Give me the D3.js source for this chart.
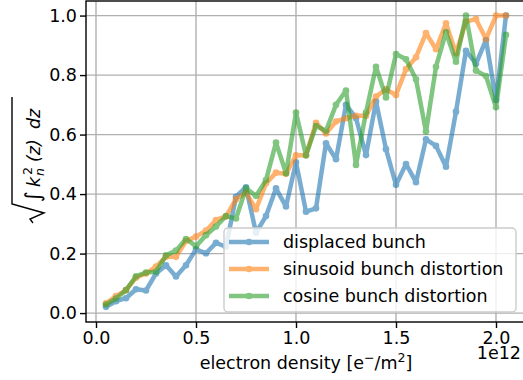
<!DOCTYPE html>
<html>
<head>
<meta charset="utf-8">
<script src="https://cdn.jsdelivr.net/npm/d3@7"></script>
<style>
  body { margin: 0; background: #fff; }
  svg { display: block; font-family: "DejaVu Sans", sans-serif; }
</style>
</head>
<body>
<div id="chart"></div>
<script>
  // electron density (units of 1e12 e-/m^2)
  const density = [0.05, 0.10, 0.15, 0.20, 0.25, 0.30, 0.35, 0.40, 0.45, 0.50,
    0.55, 0.60, 0.65, 0.70, 0.75, 0.80, 0.85, 0.90, 0.95, 1.00,
    1.05, 1.10, 1.15, 1.20, 1.25, 1.30, 1.35, 1.40, 1.45, 1.50,
    1.55, 1.60, 1.65, 1.70, 1.75, 1.80, 1.85, 1.90, 1.95, 2.00, 2.05];

  const displaced = [0.021, 0.040, 0.050, 0.080, 0.076, 0.133, 0.161, 0.123, 0.161, 0.214,
    0.201, 0.236, 0.223, 0.391, 0.423, 0.270, 0.326, 0.419, 0.358, 0.507,
    0.341, 0.352, 0.571, 0.517, 0.700, 0.655, 0.531, 0.711, 0.551, 0.431,
    0.501, 0.440, 0.584, 0.562, 0.492, 0.677, 0.882, 0.838, 0.918, 0.716, 1.000];

  const sinusoid = [0.033, 0.057, 0.077, 0.119, 0.133, 0.156, 0.189, 0.189, 0.242, 0.257,
    0.277, 0.313, 0.325, 0.383, 0.405, 0.349, 0.436, 0.472, 0.468, 0.530,
    0.531, 0.640, 0.604, 0.644, 0.655, 0.663, 0.663, 0.728, 0.752, 0.733,
    0.820, 0.860, 0.941, 0.887, 0.974, 0.873, 0.980, 0.988, 0.921, 1.000, 1.000];

  const cosine = [0.029, 0.049, 0.077, 0.124, 0.136, 0.139, 0.194, 0.210, 0.249, 0.225,
    0.262, 0.291, 0.326, 0.318, 0.419, 0.394, 0.447, 0.573, 0.470, 0.674,
    0.530, 0.629, 0.613, 0.700, 0.748, 0.498, 0.674, 0.828, 0.725, 0.871,
    0.853, 0.786, 0.610, 0.828, 0.944, 0.845, 1.000, 0.815, 0.797, 0.692, 0.935];

  const seriesNames = ['displaced bunch', 'sinusoid bunch distortion', 'cosine bunch distortion'];
  const seriesColors = ['#1f77b4', '#ff7f0e', '#2ca02c'];
  const xTicks = [0.0, 0.5, 1.0, 1.5, 2.0];
  const yTicks = [0.0, 0.2, 0.4, 0.6, 0.8, 1.0];

  const width = 523;
  const height = 380;
  const margin = { top: 1, right: -3, bottom: 58, left: 86 };
  const fontSize = 17.5;

  const svg = d3.select('#chart')
    .append('svg')
    .attr('width', width)
    .attr('height', height);

  const x = d3.scaleLinear()
    .domain([-0.05, 2.15])
    .range([margin.left, width - margin.right]);

  const y = d3.scaleLinear()
    .domain([-0.03, 1.049])
    .range([height - margin.bottom, margin.top]);

  const plotArea = svg.append('g');

  // grid
  plotArea.selectAll('line.gx')
    .data(xTicks)
    .join('line')
    .attr('class', 'gx')
    .attr('x1', d => x(d)).attr('x2', d => x(d))
    .attr('y1', y.range()[0]).attr('y2', y.range()[1])
    .attr('stroke', '#b0b0b0').attr('stroke-width', 1.4);

  plotArea.selectAll('line.gy')
    .data(yTicks)
    .join('line')
    .attr('class', 'gy')
    .attr('y1', d => y(d)).attr('y2', d => y(d))
    .attr('x1', x.range()[0]).attr('x2', x.range()[1])
    .attr('stroke', '#b0b0b0').attr('stroke-width', 1.4);

  // series
  const allSeries = [displaced, sinusoid, cosine];
  const line = d3.line()
    .x((d, i) => x(density[i]))
    .y(d => y(d));

  allSeries.forEach((vals, k) => {
    const g = plotArea.append('g').attr('opacity', 0.6);
    g.append('path')
      .datum(vals)
      .attr('d', line)
      .attr('fill', 'none')
      .attr('stroke', seriesColors[k])
      .attr('stroke-width', 4.5)
      .attr('stroke-linejoin', 'round')
      .attr('stroke-linecap', 'butt');
    g.selectAll('circle')
      .data(vals)
      .join('circle')
      .attr('cx', (d, i) => x(density[i]))
      .attr('cy', d => y(d))
      .attr('r', 3.3)
      .attr('fill', seriesColors[k]);
  });

  // axes
  const xAxis = svg.append('g')
    .attr('transform', `translate(0,${y.range()[0]})`)
    .call(d3.axisBottom(x).tickValues(xTicks).tickFormat(d3.format('.1f')).tickSize(6).tickPadding(4));

  const yAxis = svg.append('g')
    .attr('transform', `translate(${x.range()[0]},0)`)
    .call(d3.axisLeft(y).tickValues(yTicks).tickFormat(d3.format('.1f')).tickSize(6).tickPadding(3));

  [xAxis, yAxis].forEach(a => {
    a.select('.domain').remove();
    a.selectAll('line').attr('stroke', '#000').attr('stroke-width', 1.4);
    a.selectAll('text')
      .attr('fill', '#000')
      .style('font-size', fontSize + 'px')
      .style('font-family', '"DejaVu Sans", sans-serif');
  });

  // spines
  svg.append('rect')
    .attr('x', x.range()[0])
    .attr('y', y.range()[1])
    .attr('width', x.range()[1] - x.range()[0])
    .attr('height', y.range()[0] - y.range()[1])
    .attr('fill', 'none')
    .attr('stroke', '#000')
    .attr('stroke-width', 1.4);

  // x label
  const xl = svg.append('text')
    .attr('x', (x.range()[0] + x.range()[1]) / 2)
    .attr('y', 369)
    .attr('text-anchor', 'middle')
    .style('font-size', fontSize + 'px');
  xl.append('tspan').text('electron density [e');
  xl.append('tspan').attr('dy', -7).style('font-size', '12.5px').text('\u2212');
  xl.append('tspan').attr('dy', 7).text('/m');
  xl.append('tspan').attr('dy', -7).style('font-size', '12.5px').text('2');
  xl.append('tspan').attr('dy', 7).text(']');

  // offset text
  svg.append('text')
    .attr('x', 521)
    .attr('y', 359)
    .attr('text-anchor', 'end')
    .style('font-size', fontSize + 'px')
    .text('1e12');

  // y label: sqrt( int k_n^2(z) dz )
  const yl = svg.append('g')
    .attr('transform', 'translate(40,160) rotate(-90)');
  yl.append('path')
    .attr('d', 'M-63,-7 L-59,-10 L-53,4 L-44,-28 L63,-28')
    .attr('fill', 'none')
    .attr('stroke', '#000')
    .attr('stroke-width', 1.4);
  yl.append('text')
    .attr('x', -42).attr('y', 0)
    .style('font-size', '21px')
    .text('\u222B');
  yl.append('text')
    .attr('x', -27).attr('y', 0)
    .style('font-size', fontSize + 'px')
    .style('font-style', 'italic')
    .text('k');
  yl.append('text')
    .attr('x', -15).attr('y', -8)
    .style('font-size', '12.5px')
    .text('2');
  yl.append('text')
    .attr('x', -16).attr('y', 4)
    .style('font-size', '12.5px')
    .style('font-style', 'italic')
    .text('n');
  yl.append('text')
    .attr('x', -2).attr('y', 0)
    .style('font-size', fontSize + 'px')
    .style('font-style', 'italic')
    .text('(z)');
  yl.append('text')
    .attr('x', 31).attr('y', 0)
    .style('font-size', fontSize + 'px')
    .style('font-style', 'italic')
    .text('dz');

  // legend
  const legend = svg.append('g');
  legend.append('rect')
    .attr('x', 224).attr('y', 228)
    .attr('width', 292).attr('height', 84)
    .attr('rx', 4)
    .attr('fill', '#fff').attr('fill-opacity', 0.8)
    .attr('stroke', '#cccccc').attr('stroke-width', 1.4);

  seriesNames.forEach((name, k) => {
    const cy = 242 + k * 27;
    const item = legend.append('g');
    const h = item.append('g').attr('opacity', 0.6);
    h.append('line')
      .attr('x1', 229).attr('x2', 269)
      .attr('y1', cy).attr('y2', cy)
      .attr('stroke', seriesColors[k]).attr('stroke-width', 4.5);
    h.append('circle')
      .attr('cx', 249).attr('cy', cy).attr('r', 3.3)
      .attr('fill', seriesColors[k]);
    item.append('text')
      .attr('x', 283).attr('y', cy + 6.3)
      .style('font-size', fontSize + 'px')
      .text(name);
  });
</script>
</body>
</html>
